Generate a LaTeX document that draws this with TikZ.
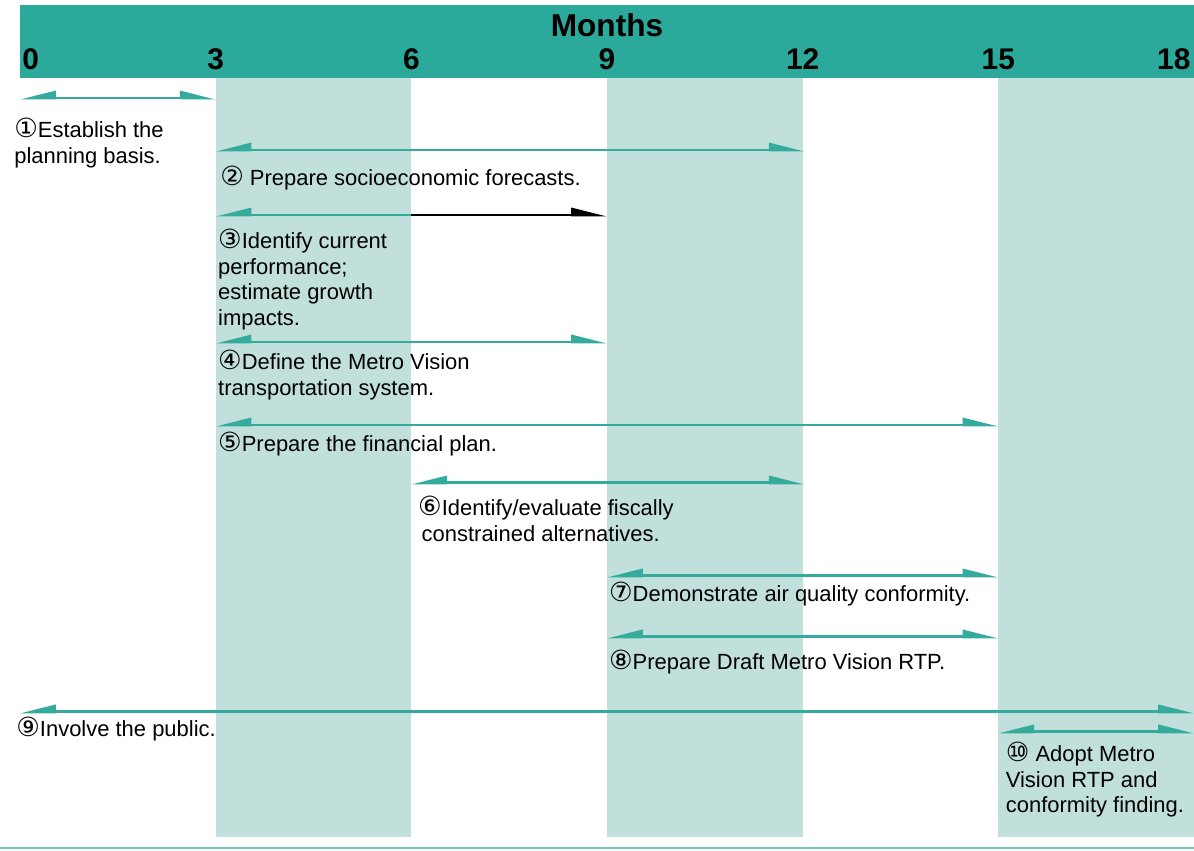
\documentclass[tikz,border=0pt]{standalone}
\usepackage{fontspec}
\setmainfont{Liberation Sans}
\newfontfamily\circfont{DejaVu Sans}
\usetikzlibrary{arrows.meta}
\definecolor{headteal}{HTML}{2BAA9B}
\definecolor{shadeteal}{HTML}{C1E0DC}
\definecolor{barteal}{HTML}{34AB9C}
\newcommand{\cn}[1]{{\circfont\fontsize{15}{14.5}\selectfont #1}}

\begin{document}
\begin{tikzpicture}[x=1.305cm,y=-0.02cm,
    span/.style={draw=barteal,line width=1.6pt,
      {Triangle[harpoon,swap,length=17pt,width=8pt]}-{Triangle[harpoon,length=17pt,width=8pt]}},
    monthlbl/.style={font=\fontsize{17}{17}\selectfont\bfseries,inner sep=0pt,anchor=base},
    tasklbl/.style={font=\fontsize{12.5}{14.5}\selectfont,inner sep=0pt,anchor=north west,align=left}]

\useasboundingbox (-0.3065,0) rectangle (18,851);

% header band and shaded quarters
\fill[headteal] (0,5) rectangle (18,78);
\foreach \c in {3,9,15} {
    \fill[shadeteal] (\c,78) rectangle (\c+3,837);
}
\draw[barteal!70,line width=1.5pt] (-0.3065,848) -- (18,848);

\node[monthlbl] (months) at (9,37) {\fontsize{18}{18}\selectfont Months};
\node[monthlbl,anchor=base west] (m0) at (0.03,70) {0};
\foreach \m in {3,6,9,12,15} {
    \node[monthlbl] (m\m) at (\m,70) {\m};
}
\node[monthlbl,anchor=base east] (m18) at (17.95,70) {18};

% task spans
\foreach \n/\a/\b/\y in {1/0/3/98, 2/3/12.03/150, 4/3/9/342, 5/3/15/425, 6/6/12.03/483,
                         7/9/15/576, 8/9/15/637, 9/0/18/712, 10/15/18/732} {
    \coordinate (s\n) at (\a,\y);
    \coordinate (e\n) at (\b,\y);
    \draw[span] (s\n) -- (e\n);
}
\coordinate (s3) at (3,215);
\coordinate (k3) at (6,215);
\coordinate (e3) at (9,215);
\draw[span,{Triangle[harpoon,swap,length=17pt,width=8pt]}-] (s3) -- (k3);
\draw[span,draw=black,-{Triangle[harpoon,length=17pt,width=8pt]}] (k3) -- (e3);

% task labels
\node[tasklbl] (t1) at (-0.092,118) {\cn{①}Establish the\\planning basis.};
\node[tasklbl] (t2) at (3.065,166) {\cn{②} Prepare socioeconomic forecasts.};
\node[tasklbl] (t3) at (3.034,229) {\cn{③}Identify current\\performance;\\estimate growth\\impacts.};
\node[tasklbl] (t4) at (3.034,350) {\cn{④}Define the Metro Vision\\transportation system.};
\node[tasklbl] (t5) at (3.034,432) {\cn{⑤}Prepare the financial plan.};
\node[tasklbl] (t6) at (6.10,496) {\cn{⑥}Identify/evaluate fiscally\\\hspace{2pt}constrained alternatives.};
\node[tasklbl] (t7) at (9.027,582) {\cn{⑦}Demonstrate air quality conformity.};
\node[tasklbl] (t8) at (9.027,650) {\cn{⑧}Prepare Draft Metro Vision RTP.};
\node[tasklbl] (t9) at (-0.061,717) {\cn{⑨}Involve the public.};
\node[tasklbl] (t10) at (15.11,742) {\cn{⑩} Adopt Metro\\Vision RTP and\\conformity finding.};
\end{tikzpicture}
\end{document}
